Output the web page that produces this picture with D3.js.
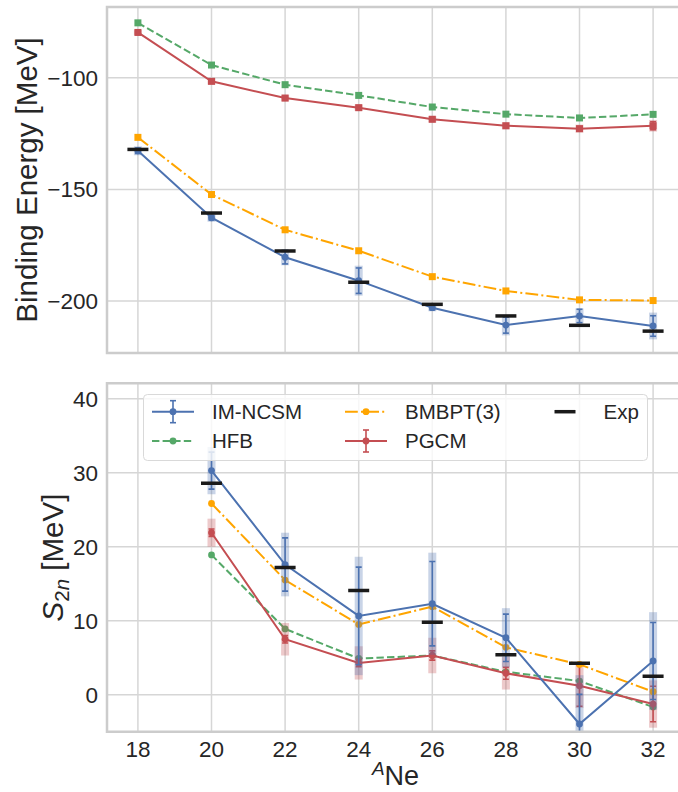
<!DOCTYPE html>
<html><head><meta charset="utf-8">
<script src="https://cdn.jsdelivr.net/npm/d3@7"></script>
<style>html,body{margin:0;padding:0;background:#fff;}svg{display:block;}</style>
</head><body>
<script>
// ---------- data ----------
const A = [18,20,22,24,26,28,30,32];
const beNcsm     = [-132.7,-162.7,-180.4,-190.9,-203.0,-210.8,-206.7,-211.2];
const beNcsmErr  = [1.2,1.0,3.0,5.7,1.0,3.6,3.0,4.6];
const beNcsmBand = [2.0,1.8,3.6,6.7,1.6,4.6,3.4,6.0];
const beHfb      = [-75.4,-94.3,-103.1,-107.9,-113.1,-116.3,-118.0,-116.4];
const bePgcm     = [-79.7,-101.6,-109.1,-113.4,-118.6,-121.5,-122.8,-121.5];
const bePgcmErr  = [0.4,0.5,0.5,0.5,0.6,0.8,0.9,1.8];
const bePgcmBand = [1.2,1.5,1.5,1.5,1.5,1.6,1.8,2.6];
const beBmbpt    = [-126.7,-152.3,-168.1,-177.5,-189.1,-195.5,-199.5,-199.8];
const beExp      = [-132.1,-160.6,-177.6,-191.6,-201.5,-206.7,-210.9,-213.5];

const A2 = [20,22,24,26,28,30,32];
const sNcsm     = [30.3,17.6,10.65,12.3,7.7,-3.96,4.56];
const sNcsmErr  = [2.5,3.6,6.6,5.7,3.2,4.0,5.2];
const sNcsmBand = [3.2,4.3,8.0,6.9,4.0,6.6,6.6];
const sBmbpt    = [25.85,15.5,9.5,11.9,6.4,4.1,0.4];
const sHfb      = [18.9,8.9,4.9,5.3,3.1,1.85,-1.66];
const sPgcm     = [21.9,7.5,4.3,5.3,2.9,1.2,-1.26];
const sPgcmErr  = [0.5,0.5,0.5,0.63,0.8,2.75,2.4];
const sPgcmBand = [1.9,2.2,2.25,2.4,2.2,3.0,3.2];
const sExp      = [28.6,17.2,14.1,9.8,5.4,4.25,2.5];

const xTicks = [18,20,22,24,26,28,30,32];
const yTicksTop = [-100,-150,-200];
const yTicksBot = [0,10,20,30,40];
const seriesNames = ["IM-NCSM","HFB","BMBPT(3)","PGCM","Exp"];

// ---------- style ----------
const C = {blue:"#4C72B0", green:"#55A868", red:"#C44E52", orange:"#FFA500", exp:"#1a1a1a", grid:"#d6d6d6", spine:"#cccccc", text:"#262626"};
const FONT = "'Liberation Sans', Arial, Helvetica, sans-serif";
const W = 678, H = 792;

const svg = d3.select("body").append("svg").attr("width",W).attr("height",H)
  .style("font-family",FONT);

const x = d3.scaleLinear().domain([17.16,32.84]).range([107,684]);
const yTop = d3.scaleLinear().domain([-223.3,-68.3]).range([353,7]);
const yBot = d3.scaleLinear().domain([-5.0,42.1]).range([731.7,383.3]);

function panel(id, y, yTicks, tickFmt){
  const [y0,y1] = y.range();
  const x0 = x.range()[0], x1 = x.range()[1];
  svg.append("clipPath").attr("id",id).append("rect")
    .attr("x",x0).attr("y",y1).attr("width",x1-x0).attr("height",y0-y1);
  const g = svg.append("g");
  g.selectAll(null).data(xTicks).join("line")
    .attr("x1",d=>x(d)).attr("x2",d=>x(d)).attr("y1",y1).attr("y2",y0)
    .attr("stroke",C.grid).attr("stroke-width",1.5);
  g.selectAll(null).data(yTicks).join("line")
    .attr("x1",x0).attr("x2",x1).attr("y1",d=>y(d)).attr("y2",d=>y(d))
    .attr("stroke",C.grid).attr("stroke-width",1.5);
  g.selectAll(null).data(yTicks).join("text")
    .attr("x",x0-9).attr("y",d=>y(d)).attr("dy","0.36em")
    .attr("text-anchor","end").attr("font-size",22.5).attr("fill",C.text)
    .text(tickFmt);
  const plot = svg.append("g").attr("clip-path",`url(#${id})`);
  return {g, plot, x0, x1, y0, y1};
}

function drawSeries(plot, y, xs, vals, o){
  const pts = xs.map((a,i)=>({a, v:vals[i], e:o.err?o.err[i]:0, b:o.band?o.band[i]:0}));
  if(o.band){
    plot.selectAll(null).data(pts).join("rect")
      .attr("x",d=>x(d.a)-4).attr("width",8)
      .attr("y",d=>y(d.v+d.b)).attr("height",d=>y(d.v-d.b)-y(d.v+d.b))
      .attr("fill",o.color).attr("opacity",0.3);
  }
  const line = d3.line().x(d=>x(d.a)).y(d=>y(d.v));
  plot.append("path").datum(pts).attr("d",line).attr("fill","none")
    .attr("stroke",o.color).attr("stroke-width",2)
    .attr("stroke-dasharray",o.dash||null);
  if(o.err){
    const eg = plot.append("g").attr("stroke",o.color).attr("stroke-width",1.6);
    eg.selectAll(null).data(pts).join("line")
      .attr("x1",d=>x(d.a)).attr("x2",d=>x(d.a))
      .attr("y1",d=>y(d.v+d.e)).attr("y2",d=>y(d.v-d.e));
    [1,-1].forEach(s=>{
      eg.selectAll(null).data(pts).join("line")
        .attr("x1",d=>x(d.a)-3).attr("x2",d=>x(d.a)+3)
        .attr("y1",d=>y(d.v+s*d.e)).attr("y2",d=>y(d.v+s*d.e));
    });
  }
  if(o.marker==="square"){
    plot.selectAll(null).data(pts).join("rect")
      .attr("x",d=>x(d.a)-3.5).attr("y",d=>y(d.v)-3.5).attr("width",7).attr("height",7)
      .attr("fill",o.color);
  } else {
    plot.selectAll(null).data(pts).join("circle")
      .attr("cx",d=>x(d.a)).attr("cy",d=>y(d.v)).attr("r",3.4).attr("fill",o.color);
  }
}
function drawExp(plot, y, xs, vals){
  plot.selectAll(null).data(xs.map((a,i)=>({a,v:vals[i]}))).join("line")
    .attr("x1",d=>x(d.a)-10.5).attr("x2",d=>x(d.a)+10.5)
    .attr("y1",d=>y(d.v)).attr("y2",d=>y(d.v))
    .attr("stroke",C.exp).attr("stroke-width",3.5);
}
function spines(p){
  svg.append("path")
    .attr("d",`M${p.x1},${p.y1}H${p.x0}V${p.y0}H${p.x1}`)
    .attr("fill","none").attr("stroke",C.spine).attr("stroke-width",2.5);
}

const DASH = "7.4,3.2", DASHDOT = "12.8,3.2,2,3.2";
const minus = d=>String(d).replace("-","\u2212");

// ---------- top panel ----------
const pT = panel("clipTop", yTop, yTicksTop, minus);
drawSeries(pT.plot, yTop, A, beHfb, {color:C.green, dash:DASH, marker:"square"});
drawSeries(pT.plot, yTop, A, bePgcm, {color:C.red, marker:"square", err:bePgcmErr, band:bePgcmBand});
drawSeries(pT.plot, yTop, A, beBmbpt, {color:C.orange, dash:DASHDOT, marker:"square"});
drawSeries(pT.plot, yTop, A, beNcsm, {color:C.blue, marker:"circle", err:beNcsmErr, band:beNcsmBand});
drawExp(pT.plot, yTop, A, beExp);
spines(pT);
svg.append("text").attr("transform",`translate(37,${(pT.y0+pT.y1)/2}) rotate(-90)`)
  .attr("text-anchor","middle").attr("font-size",29.5).attr("fill",C.text)
  .text("Binding Energy [MeV]");

// ---------- bottom panel ----------
const pB = panel("clipBot", yBot, yTicksBot, d=>d);
drawSeries(pB.plot, yBot, A2, sHfb, {color:C.green, dash:DASH, marker:"circle"});
drawSeries(pB.plot, yBot, A2, sPgcm, {color:C.red, marker:"circle", err:sPgcmErr, band:sPgcmBand});
drawSeries(pB.plot, yBot, A2, sBmbpt, {color:C.orange, dash:DASHDOT, marker:"circle"});
drawSeries(pB.plot, yBot, A2, sNcsm, {color:C.blue, marker:"circle", err:sNcsmErr, band:sNcsmBand});
drawExp(pB.plot, yBot, A2, sExp);
spines(pB);
svg.append("g").selectAll(null).data(xTicks).join("text")
  .attr("x",d=>x(d)).attr("y",757).attr("text-anchor","middle")
  .attr("font-size",22.5).attr("fill",C.text).text(d=>d);
const xl = svg.append("text").attr("x",(pB.x0+pB.x1)/2).attr("y",785)
  .attr("text-anchor","middle").attr("font-size",27).attr("fill",C.text);
xl.append("tspan").attr("font-style","italic").attr("font-size",19).attr("dy",-10).text("A");
xl.append("tspan").attr("dy",10).text("Ne");
const yl = svg.append("text").attr("transform",`translate(63,${(pB.y0+pB.y1)/2}) rotate(-90)`)
  .attr("text-anchor","middle").attr("font-size",29.5).attr("fill",C.text);
yl.append("tspan").attr("font-style","italic").text("S");
yl.append("tspan").attr("font-size",20.5).attr("dy",6).text("2");
yl.append("tspan").attr("font-size",20.5).attr("font-style","italic").text("n");
yl.append("tspan").attr("dy",-6).text("\u00a0[MeV]");

// ---------- legend ----------
const lg = svg.append("g");
lg.append("rect").attr("x",143.5).attr("y",394.5).attr("width",504).attr("height",66)
  .attr("rx",4).attr("fill","#fff").attr("fill-opacity",0.8).attr("stroke","#d9d9d9").attr("stroke-width",1);
const legItems = [
  {name:seriesNames[0], color:C.blue, x:152, y:411.7, err:true},
  {name:seriesNames[1], color:C.green, x:152, y:441, dash:DASH},
  {name:seriesNames[2], color:C.orange, x:345, y:411.7, dash:DASHDOT},
  {name:seriesNames[3], color:C.red, x:345, y:441, err:true},
];
legItems.forEach(it=>{
  const g = lg.append("g");
  g.append("line").attr("x1",it.x).attr("x2",it.x+42).attr("y1",it.y).attr("y2",it.y)
    .attr("stroke",it.color).attr("stroke-width",2).attr("stroke-dasharray",it.dash||null);
  const cx = it.x+21;
  if(it.err){
    g.append("line").attr("x1",cx).attr("x2",cx).attr("y1",it.y-11).attr("y2",it.y+11)
      .attr("stroke",it.color).attr("stroke-width",1.6);
    [-11,11].forEach(dy=>g.append("line").attr("x1",cx-3).attr("x2",cx+3)
      .attr("y1",it.y+dy).attr("y2",it.y+dy).attr("stroke",it.color).attr("stroke-width",1.6));
  }
  g.append("circle").attr("cx",cx).attr("cy",it.y).attr("r",3.4).attr("fill",it.color);
  g.append("text").attr("x",it.x+60).attr("y",it.y).attr("dy","0.36em")
    .attr("font-size",20.5).attr("fill",C.text).text(it.name);
});
lg.append("line").attr("x1",554.5).attr("x2",575.5).attr("y1",411.7).attr("y2",411.7)
  .attr("stroke",C.exp).attr("stroke-width",3.5);
lg.append("text").attr("x",603.5).attr("y",411.7).attr("dy","0.36em")
  .attr("font-size",20.5).attr("fill",C.text).text(seriesNames[4]);
</script>
</body></html>
